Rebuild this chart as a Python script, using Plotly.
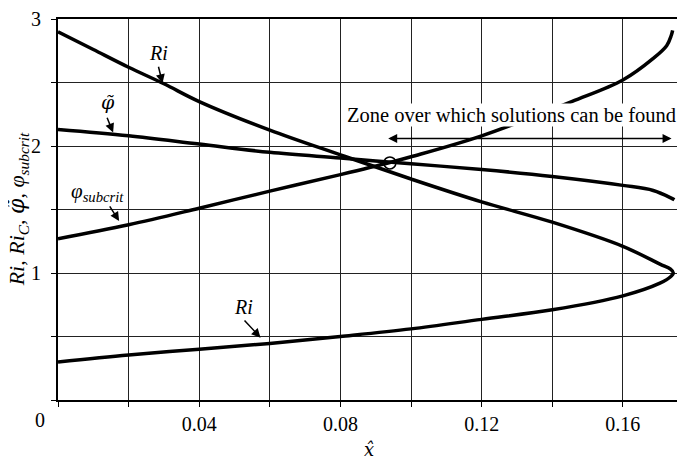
import plotly.graph_objects as go

# ---- data ----
ri_upper_x = [0.0, 0.01, 0.02, 0.03, 0.04, 0.06, 0.08, 0.10, 0.12, 0.14, 0.16, 0.1705, 0.1735, 0.1743]
ri_upper_y = [2.90, 2.76, 2.62, 2.49, 2.35, 2.125, 1.93, 1.74, 1.56, 1.40, 1.21, 1.07, 1.03, 1.00]
ri_lower_x = [0.1743, 0.1735, 0.1705, 0.16, 0.14, 0.12, 0.10, 0.08, 0.06, 0.04, 0.02, 0.0]
ri_lower_y = [1.00, 0.97, 0.92, 0.82, 0.71, 0.635, 0.56, 0.50, 0.445, 0.40, 0.355, 0.30]

phit_x = [0.0, 0.02, 0.04, 0.06, 0.08, 0.10, 0.12, 0.14, 0.16, 0.1686, 0.1737, 0.1746]
phit_y = [2.13, 2.08, 2.015, 1.95, 1.905, 1.86, 1.815, 1.76, 1.69, 1.65, 1.59, 1.576]

phisub_x = [0.0, 0.02, 0.04, 0.06, 0.08, 0.094, 0.10, 0.12, 0.1455, 0.16, 0.1686, 0.1724, 0.1737, 0.1741]
phisub_y = [1.27, 1.38, 1.51, 1.645, 1.775, 1.87, 1.915, 2.08, 2.35, 2.52, 2.69, 2.79, 2.87, 2.91]

solution_x = [0.094]
solution_y = [1.867]

x_tickvals = [0, 0.02, 0.04, 0.06, 0.08, 0.10, 0.12, 0.14, 0.16]
x_ticktext = ["", "", "0.04", "", "0.08", "", "0.12", "", "0.16"]
y_tickvals = [0, 0.5, 1, 1.5, 2, 2.5, 3]
y_ticktext = ["", "", "1", "", "2", "", "3"]

zone_start, zone_end, zone_y = 0.0931, 0.1738, 2.06

FONT = "Liberation Serif, Times New Roman, serif"
PHIT = '<span style="font-family:DejaVu Serif">φ̃</span>'
XHAT = '<span style="font-family:DejaVu Serif">x̂</span>'

fig = go.Figure()
line = dict(color="black", width=3.5)
fig.add_trace(go.Scatter(x=ri_upper_x + ri_lower_x[1:], y=ri_upper_y + ri_lower_y[1:],
                         mode="lines", line=line, line_shape="spline", showlegend=False))
fig.add_trace(go.Scatter(x=phit_x, y=phit_y, mode="lines", line=line,
                         line_shape="spline", showlegend=False))
fig.add_trace(go.Scatter(x=phisub_x, y=phisub_y, mode="lines", line=line,
                         line_shape="spline", showlegend=False))
fig.add_trace(go.Scatter(x=solution_x, y=solution_y, mode="markers",
                         marker=dict(symbol="circle-open", size=12, color="black",
                                     line=dict(width=1.5, color="black")),
                         showlegend=False))

ann = []
labels = [
    ("<i>Ri</i>", 0.02856, 2.729, 20),
    ("<i>" + PHIT + "</i>", 0.01411, 2.349, 19),
    ("<i>φ<sub>subcrit</sub></i>", 0.01113, 1.640, 21),
    ("<i>Ri</i>", 0.05263, 0.736, 20),
]
for t, x, y, s in labels:
    ann.append(dict(text=t, x=x, y=y, xref="x", yref="y", showarrow=False,
                    font=dict(family=FONT, size=s, color="black")))
arrows = [
    (0.02836, 2.636, 0.02960, 2.494),
    (0.01374, 2.235, 0.01561, 2.106),
    (0.01439, 1.537, 0.01731, 1.409),
    (0.05244, 0.638, 0.05737, 0.491),
]
for ax, ay, x, y in arrows:
    ann.append(dict(text="", x=x, y=y, ax=ax, ay=ay, xref="x", yref="y",
                    axref="x", ayref="y", showarrow=True, arrowhead=2,
                    arrowsize=1.2, arrowwidth=1.5, arrowcolor="black", standoff=0))
ann.append(dict(text="Zone over which solutions can be found", x=0.0817, y=2.248,
                xref="x", yref="y", xanchor="left", yanchor="middle", showarrow=False,
                bgcolor="white", borderpad=0,
                font=dict(family=FONT, size=20.5, color="black")))
ann.append(dict(text="", x=zone_end, y=zone_y, ax=zone_start, ay=zone_y,
                xref="x", yref="y", axref="x", ayref="y", showarrow=True,
                arrowhead=2, startarrowhead=2, arrowside="end+start",
                arrowsize=1.2, startarrowsize=1.2, arrowwidth=1.5,
                arrowcolor="black", standoff=0, startstandoff=0))
ann.append(dict(text="0", x=-0.029, y=-0.052, xref="paper", yref="paper",
                showarrow=False, xanchor="center", yanchor="middle",
                font=dict(family=FONT, size=20, color="black")))
ann.append(dict(text="<i>Ri</i>, <i>Ri<sub>C</sub></i>, <i>" + PHIT + "</i>, <i>φ<sub>subcrit</sub></i>",
                x=-0.064, y=0.5, xref="paper", yref="paper", textangle=-90,
                showarrow=False, xanchor="center", yanchor="middle",
                font=dict(family=FONT, size=22, color="black")))
ann.append(dict(text="<i>" + XHAT + "</i>", x=0.088, y=-0.13, xref="x", yref="paper",
                showarrow=False, xanchor="center", yanchor="middle",
                font=dict(family=FONT, size=18, color="black")))

# the page body adds an 8px offset; size the figure so the plot lands where the reference has it
fig.update_layout(
    width=677, height=452,
    margin=dict(l=50, r=0, t=5, b=60),
    paper_bgcolor="white", plot_bgcolor="white",
    font=dict(family=FONT, size=20, color="black"),
    annotations=ann,
    xaxis=dict(range=[0, 0.1776], tickvals=x_tickvals, ticktext=x_ticktext,
               showgrid=True, gridcolor="#222", gridwidth=1,
               showline=True, linecolor="black", linewidth=2, mirror=True,
               ticks="outside", ticklen=5, tickcolor="black", tickwidth=1,
               zeroline=False, tickfont=dict(family=FONT, size=20)),
    yaxis=dict(range=[0, 3], tickvals=y_tickvals, ticktext=y_ticktext,
               showgrid=True, gridcolor="#222", gridwidth=1,
               showline=True, linecolor="black", linewidth=2,
               ticks="outside", ticklen=5, tickcolor="black", tickwidth=1,
               ticklabelstandoff=6, ticklabeloverflow="allow",
               zeroline=False, tickfont=dict(family=FONT, size=20)),
)

fig.write_html("out.html")
